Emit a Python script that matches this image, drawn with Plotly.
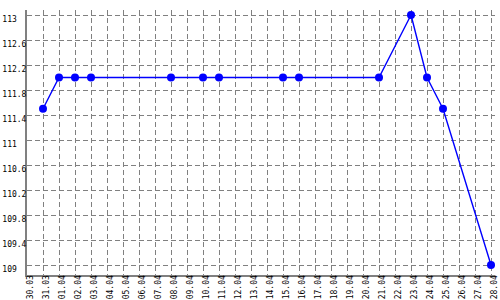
import plotly.graph_objects as go

categories = ["30.03", "31.03"] + [f"{d:02d}.04" for d in range(1, 29)]
point_dates = ["31.03", "01.04", "02.04", "03.04", "08.04", "10.04", "11.04",
               "15.04", "16.04", "21.04", "23.04", "24.04", "25.04", "28.04"]
point_values = [111.5, 112, 112, 112, 112, 112, 112,
                112, 112, 112, 113, 112, 111.5, 109]
y_ticks = [109, 109.4, 109.8, 110.2, 110.6, 111, 111.4, 111.8, 112.2, 112.6, 113]
y_tick_labels = ["109", "109.4", "109.8", "110.2", "110.6", "111", "111.4",
                 "111.8", "112.2", "112.6", "113"]

# pad labels so they appear left-aligned in monospace font
padded = [t + "\u00a0" * (5 - len(t)) for t in y_tick_labels]

fig = go.Figure()
fig.add_trace(go.Scatter(
    x=point_dates, y=point_values, mode="lines+markers",
    line=dict(color="#0000ff", width=1.4),
    marker=dict(color="#0000ff", size=8, symbol="circle"),
    cliponaxis=False,
))

font = dict(family="DejaVu Sans Mono", size=8, color="#000000")
fig.update_layout(
    width=500, height=300,
    margin=dict(l=27, r=5, t=10, b=25),
    plot_bgcolor="white", paper_bgcolor="white",
    showlegend=False,
)
fig.update_xaxes(
    type="category", categoryorder="array", categoryarray=categories,
    tickmode="array", tickvals=categories, ticktext=categories,
    range=[0, 29.25], tickangle=-90, tickfont=font, automargin=False,
    showgrid=True, gridcolor="#808080", griddash="5px,3px", gridwidth=1,
    showline=True, linecolor="#808080", linewidth=2,
    ticks="", ticklen=0, ticklabelstandoff=-5, ticklabelshift=3, zeroline=False,
)
fig.update_yaxes(
    range=[108.84, 113.08], automargin=False,
    tickmode="array", tickvals=y_ticks, ticktext=padded, tickfont=font,
    showgrid=True, gridcolor="#808080", griddash="5px,3px", gridwidth=1,
    showline=True, linecolor="#808080", linewidth=2,
    ticks="", ticklen=0, ticklabelstandoff=-3, ticklabelshift=4, zeroline=False,
)
fig.write_html("out.html")
